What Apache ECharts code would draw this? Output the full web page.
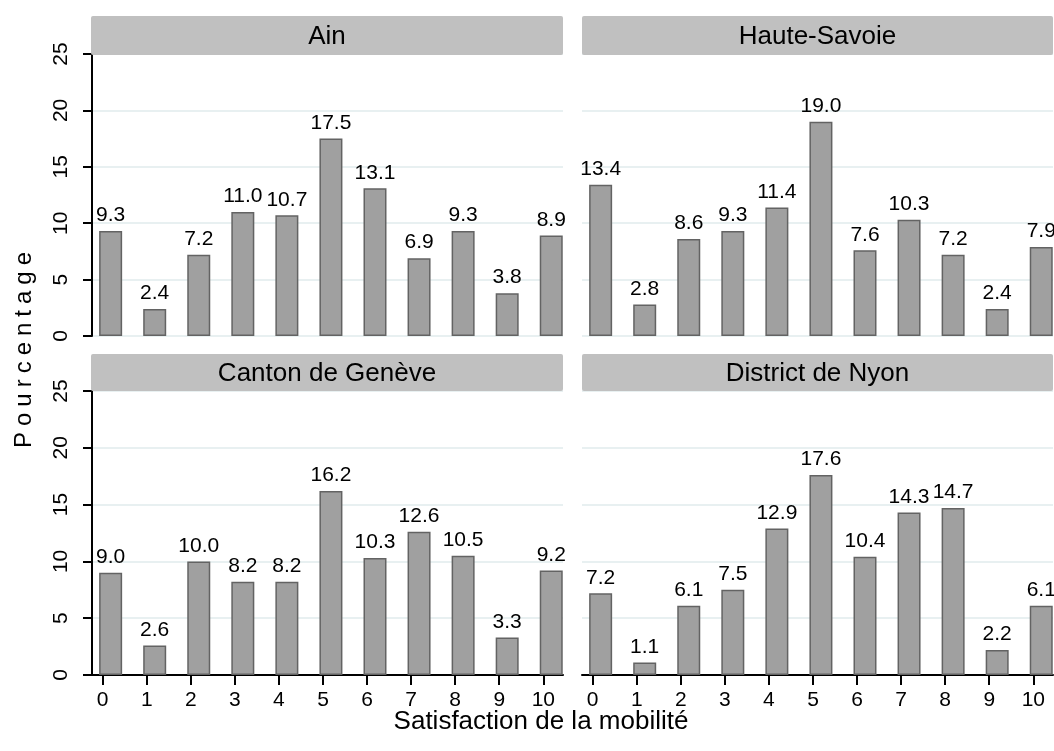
<!DOCTYPE html>
<html>
<head>
<meta charset="utf-8">
<script src="https://cdn.jsdelivr.net/npm/echarts@6/dist/echarts.min.js"></script>
<style>
html,body{margin:0;padding:0;background:#fff;}
#main{position:absolute;left:0;top:0;width:1054px;height:751px;}
#ytitle{position:absolute;left:0;top:0;width:60px;height:751px;}
</style>
</head>
<body>
<div id="main"></div>
<div id="ytitle"></div>
<script>
// ---- data ----
const categories = ['0','1','2','3','4','5','6','7','8','9','10'];
const panelTitles = ['Ain', 'Haute-Savoie', 'Canton de Genève', 'District de Nyon'];
const ain          = [9.3, 2.4, 7.2, 11.0, 10.7, 17.5, 13.1, 6.9, 9.3, 3.8, 8.9];
const hauteSavoie  = [13.4, 2.8, 8.6, 9.3, 11.4, 19.0, 7.6, 10.3, 7.2, 2.4, 7.9];
const cantonGeneve = [9.0, 2.6, 10.0, 8.2, 8.2, 16.2, 10.3, 12.6, 10.5, 3.3, 9.2];
const districtNyon = [7.2, 1.1, 6.1, 7.5, 12.9, 17.6, 10.4, 14.3, 14.7, 2.2, 6.1];
const yTickValues  = [0, 5, 10, 15, 20, 25];
const xTitle = 'Satisfaction de la mobilité';
const yTitle = 'Pourcentage';

const panelData = [ain, hauteSavoie, cantonGeneve, districtNyon];

// ---- layout ----
const FONT = '"Liberation Sans", Arial, Helvetica, sans-serif';
const grids = [
  {left: 92,  top: 54,  width: 471, height: 282},
  {left: 582, top: 54,  width: 471, height: 282},
  {left: 92,  top: 391, width: 471, height: 284},
  {left: 582, top: 391, width: 471, height: 284}
];
const headers = [
  {x: 91,  y: 16,  w: 472, h: 39},
  {x: 582, y: 16,  w: 471, h: 39},
  {x: 91,  y: 354, w: 472, h: 37},
  {x: 582, y: 354, w: 471, h: 37}
];
const tickMin = -0.243, tickMax = 10.447, barShift = 0.18;

const xAxes = [], yAxes = [], series = [], graphic = [];
grids.forEach((g, i) => {
  const isBottom = i >= 2, isLeft = i % 2 === 0;
  xAxes.push({
    type: 'value', gridIndex: i, min: tickMin, max: tickMax, show: isBottom,
    splitLine: {show: false},
    axisLine: {show: true, onZero: false, lineStyle: {color: '#000', width: 2}},
    axisTick: {show: true, length: 10, lineStyle: {color: '#000', width: 2},
               customValues: categories.map((c, k) => k)},
    axisLabel: {show: true, fontSize: 21, fontFamily: FONT, color: '#000', margin: 15,
                customValues: categories.map((c, k) => k),
                formatter: v => categories[Math.round(v)]}
  });
  xAxes.push({
    type: 'value', gridIndex: i, min: tickMin - barShift, max: tickMax - barShift, show: false
  });
  yAxes.push({
    type: 'value', gridIndex: i, min: 0, max: 25, interval: 5,
    axisLine: {show: isLeft, onZero: false, lineStyle: {color: '#000', width: 2}},
    axisTick: {show: isLeft, length: 9, lineStyle: {color: '#000', width: 2}},
    axisLabel: {show: isLeft, rotate: 90, fontSize: 21, fontFamily: FONT, color: '#000', margin: 20,
                customValues: yTickValues},
    splitLine: {show: true, lineStyle: {color: '#e8f0f1', width: 2}}
  });
  series.push({
    type: 'bar', name: panelTitles[i], xAxisIndex: 2 * i + 1, yAxisIndex: i,
    data: panelData[i].map((v, k) => [k, v]),
    barWidth: 23,
    itemStyle: {color: '#a0a0a0', borderColor: '#636363', borderWidth: 1.5},
    label: {show: true, position: 'top', distance: 5, fontSize: 21, fontFamily: FONT, color: '#000',
            formatter: p => p.value[1].toFixed(1)}
  });
  const h = headers[i];
  graphic.push({type: 'rect', z: 100, shape: {x: h.x, y: h.y, width: h.w, height: h.h, r: 2},
                style: {fill: '#c0c0c0'}});
  graphic.push({type: 'text', z: 101, x: h.x + h.w / 2, y: h.y + h.h / 2 + 1,
                style: {text: panelTitles[i], fill: '#000', font: '26px ' + FONT,
                        align: 'center', verticalAlign: 'middle'}});
});
graphic.push({type: 'text', z: 101, x: 541, y: 722,
              style: {text: xTitle, fill: '#000', font: '26px ' + FONT,
                      align: 'center', verticalAlign: 'middle'}});

const chart = echarts.init(document.getElementById('main'), null, {renderer: 'canvas'});
chart.setOption({
  animation: false,
  backgroundColor: '#fff',
  grid: grids.map(g => Object.assign({containLabel: false}, g)),
  xAxis: xAxes,
  yAxis: yAxes,
  series: series,
  graphic: graphic
});

// y-axis title with letter spacing (separate small instance)
const ytDom = document.getElementById('ytitle');
const yt = echarts.init(ytDom, null, {renderer: 'canvas'});
const ytTextBase = {id: 'yt', type: 'text', x: 24, y: 347, rotation: Math.PI / 2};
yt.setOption({animation: false,
  graphic: [Object.assign({}, ytTextBase, {style: {text: ' ', fill: '#000', font: '24px ' + FONT}})]});
try {
  ytDom.querySelectorAll('canvas').forEach(cv => { cv.getContext('2d').letterSpacing = '6px'; });
} catch (e) {}
yt.setOption({
  graphic: [Object.assign({}, ytTextBase, {
    style: {text: yTitle, fill: '#000', font: '24px ' + FONT, align: 'center', verticalAlign: 'middle'}})]
});
</script>
</body>
</html>
